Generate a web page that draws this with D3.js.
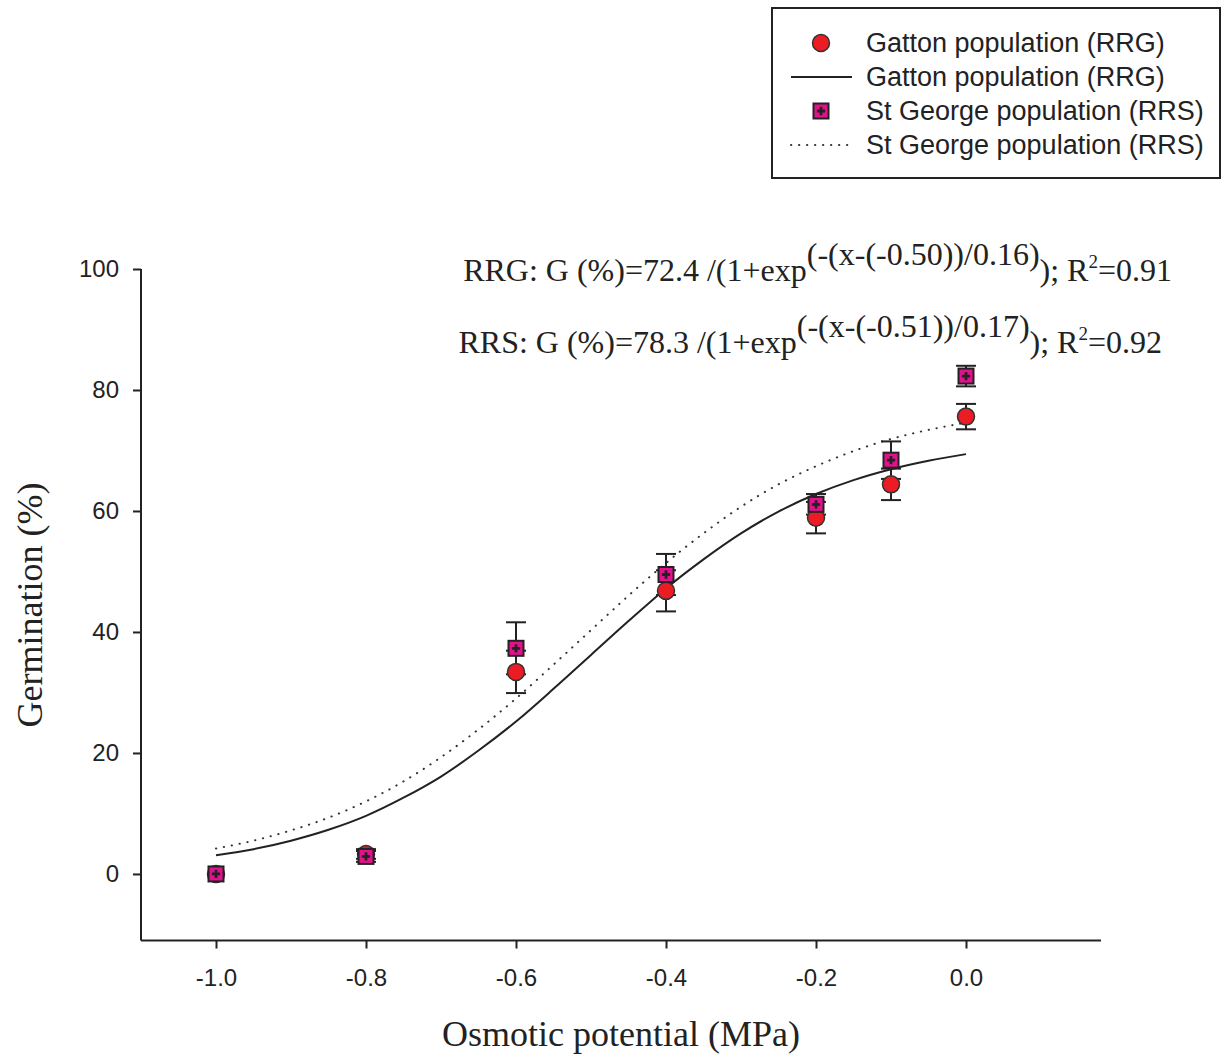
<!DOCTYPE html>
<html>
<head>
<meta charset="utf-8">
<script src="https://cdn.jsdelivr.net/npm/d3@7"></script>
<style>
  body { margin: 0; background: #fff; }
  svg { display: block; }
</style>
</head>
<body>
<div id="chart"></div>
<script>
var potential = [-1.0, -0.8, -0.6, -0.4, -0.2, -0.1, 0.0];
var gattonMean = [0, 3.3, 33.4, 46.8, 58.9, 64.4, 75.6];
var gattonSE = [0, 0.8, 3.5, 3.4, 2.6, 2.6, 2.1];
var georgeMean = [0, 2.9, 37.3, 49.5, 61.1, 68.4, 82.3];
var georgeSE = [0, 0.9, 4.3, 3.4, 1.7, 3.1, 1.7];

// fitted sigmoid curves
var fitX = [-1.0, -0.95, -0.9, -0.85, -0.8, -0.75, -0.7, -0.65, -0.6, -0.55, -0.5,
            -0.45, -0.4, -0.35, -0.3, -0.25, -0.2, -0.15, -0.1, -0.05, 0.0];
var gattonFit = [3.1, 4.1, 5.5, 7.3, 9.6, 12.6, 16.1, 20.4, 25.2, 30.6, 36.2,
                 41.8, 47.2, 52.0, 56.3, 59.9, 62.8, 65.1, 66.9, 68.3, 69.4];
var georgeFit = [4.2, 5.5, 7.2, 9.3, 12.0, 15.3, 19.3, 23.9, 29.0, 34.6, 40.3,
                 46.0, 51.4, 56.3, 60.7, 64.4, 67.4, 69.9, 71.9, 73.4, 74.6];

var xTicks = [-1.0, -0.8, -0.6, -0.4, -0.2, 0.0];
var yTicks = [0, 20, 40, 60, 80, 100];

var legendLabels = ["Gatton population (RRG)", "Gatton population (RRG)",
                    "St George population (RRS)", "St George population (RRS)"];

var width = 1223, height = 1057;

var red = "#ec1c24", pink = "#e4118c";

var svg = d3.select("#chart").append("svg")
  .attr("width", width)
  .attr("height", height);

var x = d3.scaleLinear()
  .domain([-1.1, 0.18])
  .range([141, 1101]);

var y = d3.scaleLinear()
  .domain([-11, 100])
  .range([940.5, 269]);

var plotBottom = y(-11);

// axes
var xAxis = svg.append("g")
  .attr("transform", "translate(0," + plotBottom + ")")
  .call(d3.axisBottom(x).tickValues(xTicks).tickSize(8).tickPadding(20)
    .tickFormat(function(d) { return d.toFixed(1); }));

var yAxis = svg.append("g")
  .attr("transform", "translate(" + x(-1.1) + ",0)")
  .call(d3.axisLeft(y).tickValues(yTicks).tickSize(8).tickPadding(14));

[xAxis, yAxis].forEach(function(ax) {
  ax.select(".domain").attr("stroke", "#222").attr("stroke-width", 2);
  ax.selectAll(".tick line").attr("stroke", "#222").attr("stroke-width", 2);
  ax.selectAll(".tick text")
    .style("font-family", "Liberation Sans, Arial, sans-serif")
    .style("font-size", "24px")
    .attr("fill", "#222");
});
// plain axis lines without outer ticks
xAxis.select(".domain").attr("d", "M" + x(-1.1) + ",0H" + x(0.18));
yAxis.select(".domain").attr("d", "M0," + y(100) + "V" + plotBottom);

// axis titles
svg.append("text")
  .attr("x", 621).attr("y", 1046)
  .attr("text-anchor", "middle")
  .style("font-family", "Liberation Serif, Times New Roman, serif")
  .style("font-size", "36px")
  .attr("fill", "#222")
  .text("Osmotic potential (MPa)");

svg.append("text")
  .attr("transform", "translate(42,605) rotate(-90)")
  .attr("text-anchor", "middle")
  .style("font-family", "Liberation Serif, Times New Roman, serif")
  .style("font-size", "36px")
  .attr("fill", "#222")
  .text("Germination (%)");

// fitted curves
var line = d3.line()
  .x(function(d) { return x(d[0]); })
  .y(function(d) { return y(d[1]); })
  .curve(d3.curveMonotoneX);

svg.append("path")
  .datum(d3.zip(fitX, georgeFit))
  .attr("d", line)
  .attr("fill", "none")
  .attr("stroke", "#333")
  .attr("stroke-width", 2)
  .attr("stroke-linecap", "round")
  .attr("stroke-dasharray", "0.3,7.7");

svg.append("path")
  .datum(d3.zip(fitX, gattonFit))
  .attr("d", line)
  .attr("fill", "none")
  .attr("stroke", "#222")
  .attr("stroke-width", 2);

// error bars + markers
function errorBars(mean, se) {
  var g = svg.append("g");
  potential.forEach(function(p, i) {
    if (!se[i]) return;
    var cx = x(p), y1 = y(mean[i] - se[i]), y2 = y(mean[i] + se[i]);
    g.append("line").attr("x1", cx).attr("x2", cx).attr("y1", y1).attr("y2", y2);
    g.append("line").attr("x1", cx - 10).attr("x2", cx + 10).attr("y1", y1).attr("y2", y1);
    g.append("line").attr("x1", cx - 10).attr("x2", cx + 10).attr("y1", y2).attr("y2", y2);
  });
  g.selectAll("line").attr("stroke", "#222").attr("stroke-width", 2);
}

errorBars(gattonMean, gattonSE);
errorBars(georgeMean, georgeSE);

function drawCircle(g, cx, cy) {
  g.append("circle")
    .attr("cx", cx).attr("cy", cy).attr("r", 8.5)
    .attr("fill", red).attr("stroke", "#333").attr("stroke-width", 1.5);
}

function drawSquare(g, cx, cy) {
  g.append("rect")
    .attr("x", cx - 7.5).attr("y", cy - 7.5)
    .attr("width", 15).attr("height", 15)
    .attr("fill", pink).attr("stroke", "#222").attr("stroke-width", 2);
  g.append("path")
    .attr("d", d3.symbol().type(d3.symbolCross).size(38)())
    .attr("transform", "translate(" + cx + "," + cy + ")")
    .attr("fill", "#222");
}

var marks = svg.append("g");
potential.forEach(function(p, i) {
  drawCircle(marks, x(p), y(gattonMean[i]));
});
potential.forEach(function(p, i) {
  drawSquare(marks, x(p), y(georgeMean[i]));
});

// equations
var eqFont = "Liberation Serif, Times New Roman, serif";
var equations = [
  {name: "RRG", a: "72.4", x0: "-0.50", b: "0.16", r2: "0.91", right: 1172, base: 281},
  {name: "RRS", a: "78.3", x0: "-0.51", b: "0.17", r2: "0.92", right: 1162, base: 353}
];
equations.forEach(function(e) {
  var t = svg.append("text")
    .attr("x", e.right).attr("y", e.base)
    .attr("text-anchor", "end")
    .style("font-family", eqFont)
    .style("font-size", "32px")
    .attr("fill", "#222");
  t.append("tspan").text(e.name + ": G (%)=" + e.a + " /(1+exp");
  t.append("tspan").attr("dy", -16).text("(-(x-(" + e.x0 + "))/" + e.b + ")");
  t.append("tspan").attr("dy", 16).text("); R");
  t.append("tspan").attr("dy", -13).style("font-size", "19px").text("2");
  t.append("tspan").attr("dy", 13).text("=" + e.r2);
});

// legend
var lg = svg.append("g");
lg.append("rect")
  .attr("x", 772).attr("y", 8).attr("width", 448).attr("height", 170)
  .attr("fill", "#fff").attr("stroke", "#222").attr("stroke-width", 2);

var rowY = [43, 77, 111, 145];
legendLabels.forEach(function(label, i) {
  lg.append("text")
    .attr("x", 866).attr("y", rowY[i] + 9)
    .style("font-family", "Liberation Sans, Arial, sans-serif")
    .style("font-size", "27px")
    .attr("fill", "#222")
    .text(label);
});
drawCircle(lg, 821, rowY[0]);
lg.append("line").attr("x1", 791).attr("x2", 852).attr("y1", rowY[1]).attr("y2", rowY[1])
  .attr("stroke", "#222").attr("stroke-width", 2);
drawSquare(lg, 821, rowY[2]);
lg.append("line").attr("x1", 791).attr("x2", 852).attr("y1", rowY[3]).attr("y2", rowY[3])
  .attr("stroke", "#333").attr("stroke-width", 2)
  .attr("stroke-linecap", "round").attr("stroke-dasharray", "0.3,7.7");
</script>
</body>
</html>
